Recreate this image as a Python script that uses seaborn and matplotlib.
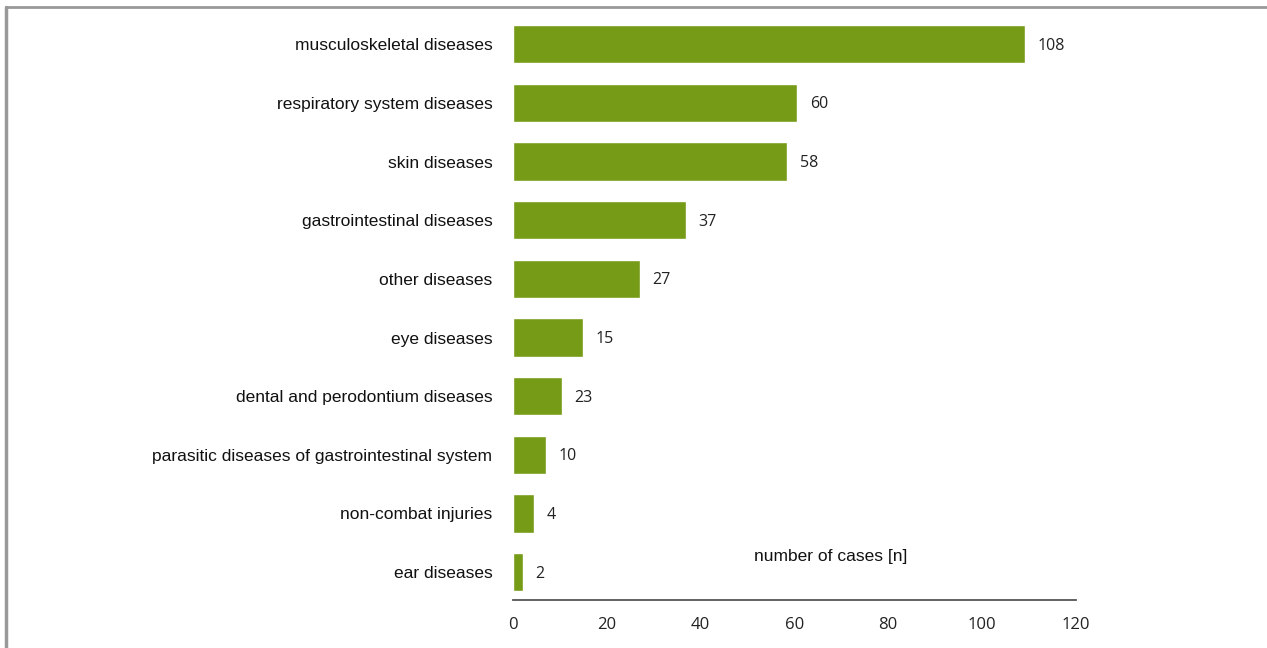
import matplotlib.pyplot as plt
import pandas as pd
import seaborn as sns
from matplotlib.lines import Line2D

# Data (bar lengths as drawn, labels as printed)
categories = [
    "musculoskeletal diseases",
    "respiratory system diseases",
    "skin diseases",
    "gastrointestinal diseases",
    "other diseases",
    "eye diseases",
    "dental and perodontium diseases",
    "parasitic diseases of gastrointestinal system",
    "non-combat injuries",
    "ear diseases",
]
bar_lengths = [109.2, 60.6, 58.5, 36.8, 27.1, 14.9, 10.4, 7.1, 4.4, 2.1]
value_labels = ["108", "60", "58", "37", "27", "15", "23", "10", "4", "2"]
x_ticks = [0, 20, 40, 60, 80, 100, 120]

df = pd.DataFrame({"category": categories, "cases": bar_lengths})

sns.set_style("white")
plt.rcParams["font.family"] = ["Liberation Sans", "DejaVu Sans"]

fig = plt.figure(figsize=(12.67, 6.48), dpi=100)
ax = fig.add_axes([0.405, 0.074, 0.444, 0.903])

sns.barplot(
    data=df,
    x="cases",
    y="category",
    color="#769b16",
    saturation=1,
    width=0.65,
    ax=ax,
)

ax.set_xlim(0, 120)
ax.set_ylim(9.476, -0.5)
ax.set_xticks(x_ticks)
ax.set_xticklabels([str(t) for t in x_ticks], family="Open Sans", fontsize=12, color="#222222")
ax.tick_params(axis="x", length=0, pad=12)
ax.tick_params(axis="y", length=0, pad=15)
for lbl in ax.get_yticklabels():
    lbl.set_fontsize(12.5)
    lbl.set_color("#111111")
ax.set_xlabel("")
ax.set_ylabel("")

sns.despine(ax=ax, left=True)
ax.spines["bottom"].set_color("#555555")
ax.spines["bottom"].set_linewidth(1.3)

# value labels next to bars
for i, (v, lab) in enumerate(zip(bar_lengths, value_labels)):
    ax.annotate(
        lab,
        xy=(v, i),
        xytext=(9, -1),
        textcoords="offset points",
        va="center",
        ha="left",
        family="Open Sans",
        fontsize=11.5,
        color="#222222",
    )

ax.text(
    0.565,
    0.075,
    "number of cases [n]",
    transform=ax.transAxes,
    ha="center",
    va="center",
    fontsize=12.5,
    color="#111111",
)

# page frame lines (top and left)
fig.add_artist(Line2D([6 / 1267, 6 / 1267], [0, 1 - 7 / 648], color="#999999", lw=2.5, transform=fig.transFigure))
fig.add_artist(Line2D([6 / 1267, 1], [1 - 7 / 648, 1 - 7 / 648], color="#999999", lw=2, transform=fig.transFigure))

fig.savefig("out.png", dpi=100)
